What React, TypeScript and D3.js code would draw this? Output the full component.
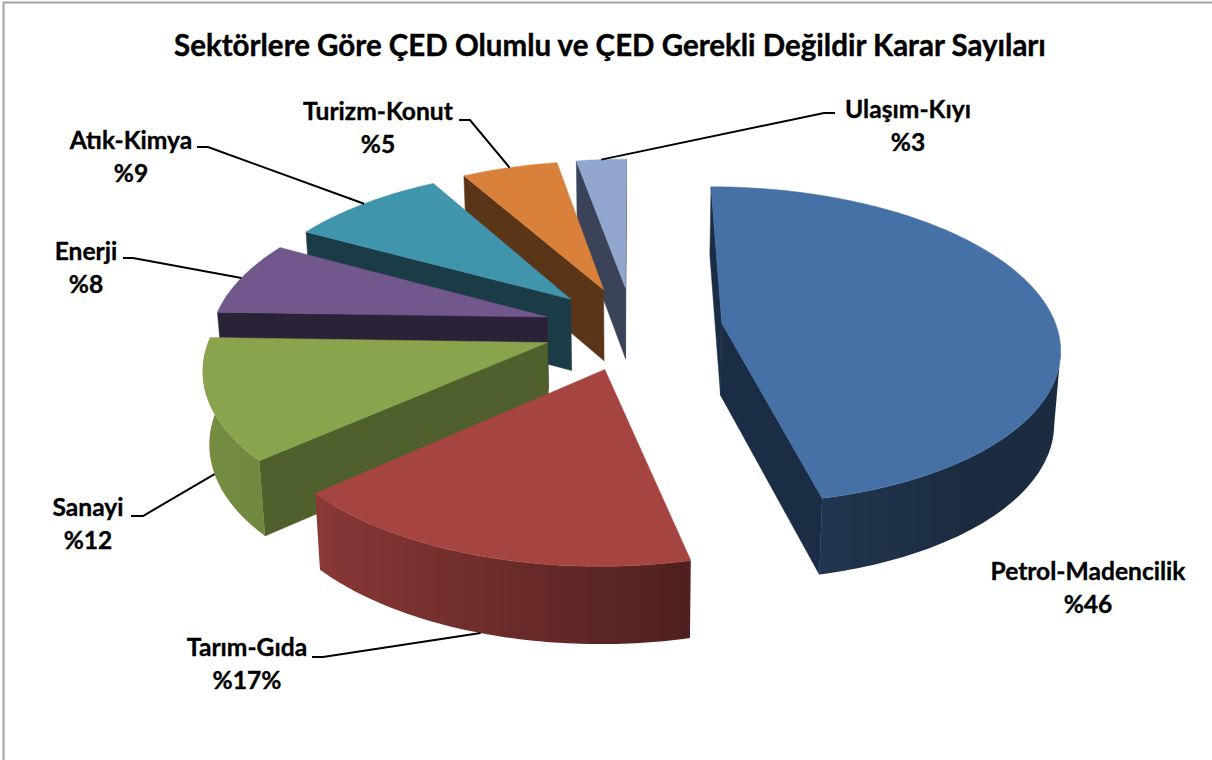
import React, { useEffect, useRef } from 'react';
import * as d3 from 'd3';

const WIDTH = 1212;
const HEIGHT = 760;

const TITLE = 'Sektörlere Göre ÇED Olumlu ve ÇED Gerekli Değildir Karar Sayıları';

// clockwise from 12 o'clock, unrounded estimates behind the printed percentages
const sectors = ['Petrol-Madencilik', 'Tarım-Gıda', 'Sanayi', 'Enerji', 'Atık-Kimya', 'Turizm-Konut', 'Ulaşım-Kıyı'];
const shares = [46.4, 17, 12.1, 7.5, 8.8, 5.4, 2.8];
const percentLabels = ['%46', '%17%', '%12', '%8', '%9', '%5', '%3'];

const topColors = ['#4671a6', '#a64441', '#89a44c', '#72578c', '#4095ad', '#d9803b', '#92a7cf'];
const sideColors = ['#1b2d45', '#52201f', '#4f602c', '#2c2237', '#1b3b47', '#5a3518', '#3a4357'];

// name label centre and the elbow of its leader line
const labelLayout = [
  { x: 1088, y: 572, elbow: null, rim: null },
  { x: 247, y: 648, elbow: [312, 323, 657], rim: 'bottom' },
  { x: 88, y: 508, elbow: [131, 143, 516], rim: 'bottom' },
  { x: 86, y: 252, elbow: [123, 133, 258], rim: 'top' },
  { x: 131, y: 141, elbow: [197, 208, 147], rim: 'top' },
  { x: 378, y: 112, elbow: [459, 470, 120], rim: 'top' },
  { x: 908, y: 110, elbow: [835, 824, 113], rim: 'top' }
];

// camera fitted by hand
const CX = 633;
const CY = 328;
const KX = 335;
const KY = 156.7;
const PERSP = 0.139;
const EXPLODE = 0.268;
const DEPTH = 72;

const project = (x: number, y: number, bottom = false) => {
  const w = 1 + PERSP * y;
  const px = (KX * x) / w;
  const py = (KY * y) / w;
  if (!bottom) return [CX + px, CY - py];
  return [CX + px * 0.985, CY - py + DEPTH / Math.pow(w, 0.4)];
};

// how dark the outer wall gets, by angle in degrees
const wallShade = d3.scaleLinear()
  .domain([0, 140, 167, 197, 228, 270, 360])
  .range([0.385, 0.385, 0.47, 0.67, 0.83, 0.88, 0.88]);

const App = () => {
  const svgRef = useRef<SVGSVGElement>(null);

  useEffect(() => {
    const svg = d3.select(svgRef.current);
    svg.selectAll('*').remove();

    svg.append('rect')
      .attr('x', 3.5).attr('y', 2.5)
      .attr('width', WIDTH + 20).attr('height', HEIGHT + 20)
      .attr('fill', '#fff').attr('stroke', '#a3a3a3').attr('stroke-width', 2);

    const defs = svg.append('defs');
    const arcs = d3.pie<number>().sort(null)(shares);
    const line = d3.line();

    const slices = arcs.map((a, i) => {
      const mid = (a.startAngle + a.endAngle) / 2;
      const ox = EXPLODE * Math.sin(mid);
      const oy = EXPLODE * Math.cos(mid);
      const at = (t: number) => [ox + Math.sin(t), oy + Math.cos(t)];
      return { i, a, mid, ox, oy, at };
    });

    // back to front: the last sectors sit behind, Petrol-Madencilik is free standing
    const order = d3.range(sectors.length).reverse();

    order.forEach((i) => {
      const s = slices[i];
      const g = svg.append('g').attr('class', 'slice');
      const n = Math.max(2, Math.ceil((s.a.endAngle - s.a.startAngle) / (Math.PI / 180)));
      const angles = d3.range(n + 1).map((k) => s.a.startAngle + ((s.a.endAngle - s.a.startAngle) * k) / n);
      const rim = angles.map((t) => s.at(t));
      const apex = [s.ox, s.oy];

      const radial = (p: number[], q: number[]) => {
        const a = project(p[0], p[1]);
        const b = project(q[0], q[1]);
        if (b[0] >= a[0]) return; // faces away
        const pts = [a, b, project(q[0], q[1], true), project(p[0], p[1], true)];
        g.append('path')
          .attr('d', line(pts as [number, number][]) + 'Z')
          .attr('fill', sideColors[i]).attr('stroke', sideColors[i]).attr('stroke-width', 0.5);
      };

      radial(apex, rim[0]);
      radial(rim[n], apex);

      // outer wall: the part of the rim that runs leftwards on screen faces the viewer
      const tops = rim.map((p) => project(p[0], p[1]));
      const first = tops.findIndex((p, k) => k < n && tops[k + 1][0] < p[0]);
      if (first >= 0) {
        const idx = d3.range(first, n + 1);
        const x0 = tops[first][0];
        const x1 = tops[n][0];
        const grad = defs.append('linearGradient')
          .attr('id', `wall-${i}`)
          .attr('gradientUnits', 'userSpaceOnUse')
          .attr('x1', x0).attr('x2', x1).attr('y1', 0).attr('y2', 0);
        idx.forEach((k) => {
          grad.append('stop')
            .attr('offset', (tops[k][0] - x0) / (x1 - x0))
            .attr('stop-color', d3.interpolateRgb('#000', topColors[i])(wallShade((angles[k] * 180) / Math.PI)));
        });
        const pts = [
          ...idx.map((k) => tops[k]),
          ...idx.slice().reverse().map((k) => project(rim[k][0], rim[k][1], true))
        ];
        g.append('path')
          .attr('d', line(pts as [number, number][]) + 'Z')
          .attr('fill', `url(#wall-${i})`);
      }

      const top = [apex, ...rim].map((p) => project(p[0], p[1]));
      g.append('path')
        .attr('d', line(top as [number, number][]) + 'Z')
        .attr('fill', topColors[i]).attr('stroke', topColors[i]).attr('stroke-width', 0.5);
    });

    // leader lines end on the rim at the middle of each slice
    labelLayout.forEach((l, i) => {
      if (!l.elbow) return;
      const s = slices[i];
      const p = s.at(s.mid);
      const end = project(p[0], p[1], l.rim === 'bottom');
      svg.append('path')
        .attr('d', line([[l.elbow[0], l.elbow[2]], [l.elbow[1], l.elbow[2]], end as [number, number]]))
        .attr('fill', 'none').attr('stroke', '#000').attr('stroke-width', 2);
    });

    const font = 'Lato, sans-serif';
    svg.append('text')
      .attr('x', 610).attr('y', 56)
      .attr('text-anchor', 'middle')
      .attr('font-family', font).attr('font-weight', 700).attr('font-size', 29.5)
      .attr('stroke', '#000').attr('stroke-width', 0.4)
      .text(TITLE);

    labelLayout.forEach((l, i) => {
      [sectors[i], percentLabels[i]].forEach((txt, k) => {
        svg.append('text')
          .attr('x', l.x).attr('y', l.y + k * 33 + 8)
          .attr('text-anchor', 'middle')
          .attr('font-family', font).attr('font-weight', 700).attr('font-size', 24.6)
          .attr('stroke', '#000').attr('stroke-width', 0.35)
          .text(txt);
      });
    });
  }, []);

  return (
    <svg
      ref={svgRef}
      width={WIDTH}
      height={HEIGHT}
      style={{ position: 'absolute', left: 0, top: 0, display: 'block' }}
    />
  );
};

export default App;
